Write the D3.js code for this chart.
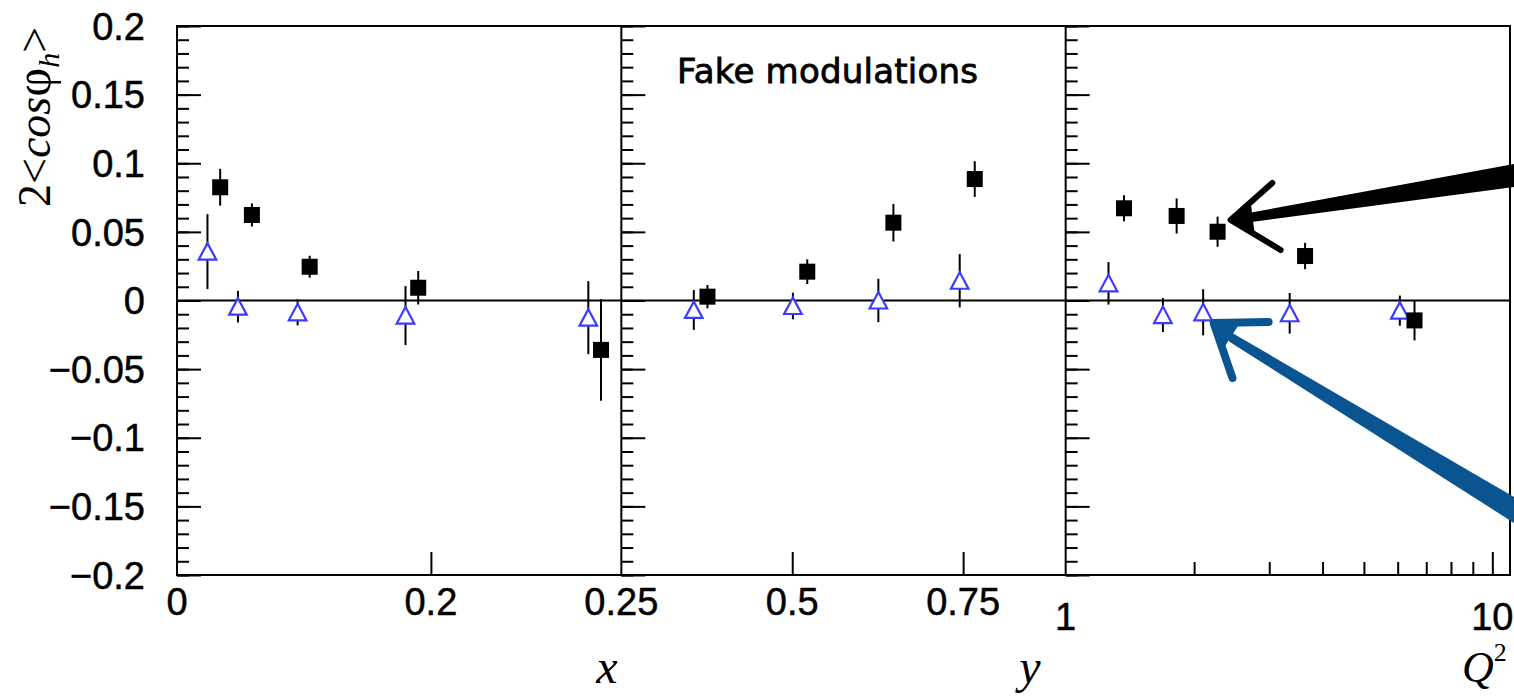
<!DOCTYPE html>
<html>
<head>
<meta charset="utf-8">
<script src="https://cdn.jsdelivr.net/npm/d3@7"></script>
<style>
  body { margin: 0; background: #fff; }
  svg { display: block; }
</style>
</head>
<body>
<svg id="chart" width="1514" height="696"></svg>
<script>
// values
// panel 1 : x
var xSqX = [0.034, 0.059, 0.1045, 0.19, 0.334];
var xSqV = [0.0825, 0.0623, 0.0246, 0.0093, -0.036];
var xSqE = [0.0134, 0.0084, 0.008, 0.0122, 0.037];
var xTrX = [0.024, 0.048, 0.095, 0.18, 0.324];
var xTrV = [0.0356, -0.0045, -0.0086, -0.011, -0.0125];
var xTrE = [0.0273, 0.0115, 0.0095, 0.0215, 0.0266];
// panel 2 : y
var ySqX = [0.376, 0.522, 0.648, 0.767];
var ySqV = [0.0028, 0.021, 0.0567, 0.0885];
var ySqE = [0.0085, 0.009, 0.0137, 0.013];
var yTrX = [0.356, 0.501, 0.626, 0.745];
var yTrV = [-0.0069, -0.004, 0.0, 0.0144];
var yTrE = [0.0145, 0.0097, 0.0158, 0.0194];
// panel 3 : Q2
var qSqX = [1.37, 1.82, 2.27, 3.64, 6.57];
var qSqV = [0.0672, 0.0616, 0.0501, 0.0324, -0.0145];
var qSqE = [0.0095, 0.0128, 0.011, 0.0096, 0.0146];
var qTrX = [1.26, 1.69, 2.10, 3.35, 6.07];
var qTrV = [0.0125, -0.0106, -0.0086, -0.0093, -0.0074];
var qTrE = [0.0155, 0.0124, 0.0168, 0.0148, 0.011];

var yMajor = [-0.2, -0.15, -0.1, -0.05, 0, 0.05, 0.1, 0.15, 0.2];
var yLabels = ["\u22120.2", "\u22120.15", "\u22120.1", "\u22120.05", "0", "0.05", "0.1", "0.15", "0.2"];
var yMinor = d3.range(-20, 21).map(function(i) { return i / 100; });

var xTicks1 = [0.2], xLabels1 = [[0, "0"], [0.2, "0.2"]];
var xTicks2 = [0.5, 0.75], xLabels2 = [[0.25, "0.25"], [0.5, "0.5"], [0.75, "0.75"]];
var qMinor = [2, 3, 4, 5, 6, 7, 8, 9], qMajor = [10], qLabels = [[1, "1"], [10, "10"]];

// hand drawn arrows, in (Q2, value) units of the third panel
var blackShaft = [[2.58, 0.0628], [11.3, 0.0995], [11.3, 0.0828], [2.62, 0.0565]];
var blackHead = [[3.05, 0.0856], [2.435, 0.0587], [3.19, 0.0368]];
var blueShaft = [[2.33, -0.0195], [11.3, -0.1435], [11.3, -0.1625], [2.42, -0.0300]];
var blueHead = [[2.99, -0.0157], [2.222, -0.0164], [2.46, -0.0565]];

function drawChart() {
  var svg = d3.select("#chart");
  var pLeft = 177, pRight = 1510, pTop = 26, pBottom = 575;
  var pw = (pRight - pLeft) / 3;

  var y = d3.scaleLinear().domain([-0.2, 0.2]).range([pBottom, pTop]);

  var panels = [
    { x: d3.scaleLinear().domain([0, 0.35]).range([pLeft, pLeft + pw]),
      sq: [xSqX, xSqV, xSqE], tr: [xTrX, xTrV, xTrE], major: xTicks1, minor: [], labels: xLabels1 },
    { x: d3.scaleLinear().domain([0.25, 0.9]).range([pLeft + pw, pLeft + 2 * pw]),
      sq: [ySqX, ySqV, ySqE], tr: [yTrX, yTrV, yTrE], major: xTicks2, minor: [], labels: xLabels2 },
    { x: d3.scaleLog().domain([1, 11]).range([pLeft + 2 * pw, pRight]),
      sq: [qSqX, qSqV, qSqE], tr: [qTrX, qTrV, qTrE], major: qMajor, minor: qMinor, labels: qLabels }
  ];

  svg.append("rect").attr("width", 1514).attr("height", 696).attr("fill", "#fff");

  var tri = "M0,-8.5L8.8,8L-8.8,8Z";
  var sans = "Liberation Sans, Arial, sans-serif";

  panels.forEach(function(p, k) {
    var g = svg.append("g");
    var x0 = p.x.range()[0];

    // ticks on the left edge, pointing in
    g.append("g").attr("transform", "translate(" + x0 + ",0)")
     .call(d3.axisRight(y).tickValues(yMinor).tickSize(12).tickFormat(""));
    g.append("g").attr("transform", "translate(" + x0 + ",0)")
     .call(d3.axisRight(y).tickValues(yMajor).tickSize(24).tickFormat(""));

    // ticks on the bottom edge, pointing up
    g.append("g").attr("transform", "translate(0," + pBottom + ")")
     .call(d3.axisTop(p.x).tickValues(p.major).tickSize(23).tickFormat(""));
    if (p.minor.length) {
      g.append("g").attr("transform", "translate(0," + pBottom + ")")
       .call(d3.axisTop(p.x).tickValues(p.minor).tickSize(13).tickFormat(""));
    }
    g.selectAll(".domain").remove();
    g.selectAll(".tick line").attr("stroke", "#000").attr("stroke-width", 2);

    // zero line
    g.append("line")
     .attr("x1", p.x.range()[0]).attr("x2", p.x.range()[1])
     .attr("y1", y(0)).attr("y2", y(0))
     .attr("stroke", "#000").attr("stroke-width", 2);

    // x labels
    g.selectAll(".xl").data(p.labels).enter().append("text")
     .attr("x", function(d) { return p.x(d[0]); })
     .attr("y", k == 2 ? 630 : 615)
     .attr("text-anchor", "middle")
     .attr("font-family", sans)
     .attr("font-size", 38)
     .attr("stroke", "#000").attr("stroke-width", 0.5)
     .text(function(d) { return d[1]; });

    // triangles (blue, open)
    var trData = p.tr[0].map(function(v, i) { return { x: v, v: p.tr[1][i], e: p.tr[2][i] }; });
    g.selectAll(".te").data(trData).enter().append("line")
     .attr("x1", function(d) { return p.x(d.x); }).attr("x2", function(d) { return p.x(d.x); })
     .attr("y1", function(d) { return y(d.v - d.e); }).attr("y2", function(d) { return y(d.v + d.e); })
     .attr("stroke", "#000").attr("stroke-width", 2);
    g.selectAll(".tm").data(trData).enter().append("path")
     .attr("d", tri)
     .attr("transform", function(d) { return "translate(" + p.x(d.x) + "," + y(d.v) + ")"; })
     .attr("fill", "#fff").attr("stroke", "#3b3bff").attr("stroke-width", 2.2);

    // squares (black, full)
    var sqData = p.sq[0].map(function(v, i) { return { x: v, v: p.sq[1][i], e: p.sq[2][i] }; });
    g.selectAll(".se").data(sqData).enter().append("line")
     .attr("x1", function(d) { return p.x(d.x); }).attr("x2", function(d) { return p.x(d.x); })
     .attr("y1", function(d) { return y(d.v - d.e); }).attr("y2", function(d) { return y(d.v + d.e); })
     .attr("stroke", "#000").attr("stroke-width", 2);
    g.selectAll(".sm").data(sqData).enter().append("rect")
     .attr("x", function(d) { return p.x(d.x) - 8; })
     .attr("y", function(d) { return y(d.v) - 8; })
     .attr("width", 16).attr("height", 16)
     .attr("fill", "#000");
  });

  // y labels
  svg.append("g").selectAll("text").data(yMajor).enter().append("text")
     .attr("x", 145)
     .attr("y", function(d) { return y(d); })
     .attr("dy", "0.36em")
     .attr("text-anchor", "end")
     .attr("font-family", sans)
     .attr("font-size", 38)
     .attr("stroke", "#000").attr("stroke-width", 0.5)
     .text(function(d, i) { return yLabels[i]; });

  // frame and panel borders
  svg.append("rect")
     .attr("x", pLeft).attr("y", pTop)
     .attr("width", pRight - pLeft).attr("height", pBottom - pTop)
     .attr("fill", "none").attr("stroke", "#000").attr("stroke-width", 2);
  [1, 2].forEach(function(i) {
    svg.append("line")
       .attr("x1", pLeft + i * pw).attr("x2", pLeft + i * pw)
       .attr("y1", pTop).attr("y2", pBottom)
       .attr("stroke", "#000").attr("stroke-width", 2);
  });

  // axis titles
  var serif = "Liberation Serif, Times New Roman, serif";
  svg.append("text").attr("x", 607).attr("y", 683)
     .attr("text-anchor", "middle").attr("font-family", serif).attr("font-style", "italic")
     .attr("font-size", 48).text("x");
  svg.append("text").attr("x", 1030).attr("y", 683)
     .attr("text-anchor", "middle").attr("font-family", serif).attr("font-style", "italic")
     .attr("font-size", 48).text("y");
  var qt = svg.append("text").attr("x", 1462).attr("y", 682)
     .attr("font-family", serif).attr("font-style", "italic").attr("font-size", 44);
  qt.append("tspan").text("Q");
  qt.append("tspan").attr("dy", -21).attr("font-size", 26).attr("font-style", "normal").text("2");

  var yt = svg.append("text")
     .attr("transform", "translate(50,207) rotate(-90)")
     .attr("font-family", serif).attr("font-size", 46);
  yt.append("tspan").text("2<");
  yt.append("tspan").attr("font-style", "italic").text("cos");
  yt.append("tspan").attr("font-size", 50).text("\u03c6");
  yt.append("tspan").attr("font-style", "italic").attr("font-size", 30).attr("dy", 9).text("h");
  yt.append("tspan").attr("dy", -9).text(">");

  // label
  svg.append("text")
     .attr("x", 677).attr("y", 83)
     .attr("font-family", "DejaVu Sans, sans-serif")
     .attr("font-size", 34)
     .attr("textLength", 301)
     .attr("stroke", "#000").attr("stroke-width", 0.8)
     .text("Fake modulations");

  // arrows
  var q = panels[2].x;
  var line = d3.line().x(function(d) { return q(d[0]); }).y(function(d) { return y(d[1]); });
  function drawHead(pts, col, w) {
    var px = pts.map(function(d) { return [q(d[0]), y(d[1])]; });
    var t = px[1];
    function along(a, f) { return [t[0] + (a[0] - t[0]) * f, t[1] + (a[1] - t[1]) * f]; }
    // dense part near the tip
    svg.append("path")
       .attr("d", d3.line()([t, along(px[0], 0.45), along(px[2], 0.45)]) + "Z")
       .attr("fill", col).attr("stroke", col).attr("stroke-width", 3).attr("stroke-linejoin", "round");
    svg.append("path").attr("d", line(pts))
       .attr("fill", "none").attr("stroke", col).attr("stroke-width", w)
       .attr("stroke-linejoin", "round").attr("stroke-linecap", "round");
  }
  svg.append("path").attr("d", line(blackShaft) + "Z").attr("fill", "#000");
  drawHead(blackHead, "#000", 6);
  svg.append("path").attr("d", line(blueShaft) + "Z").attr("fill", "#0a5591");
  drawHead(blueHead, "#0a5591", 8);
}

drawChart();
</script>
</body>
</html>
